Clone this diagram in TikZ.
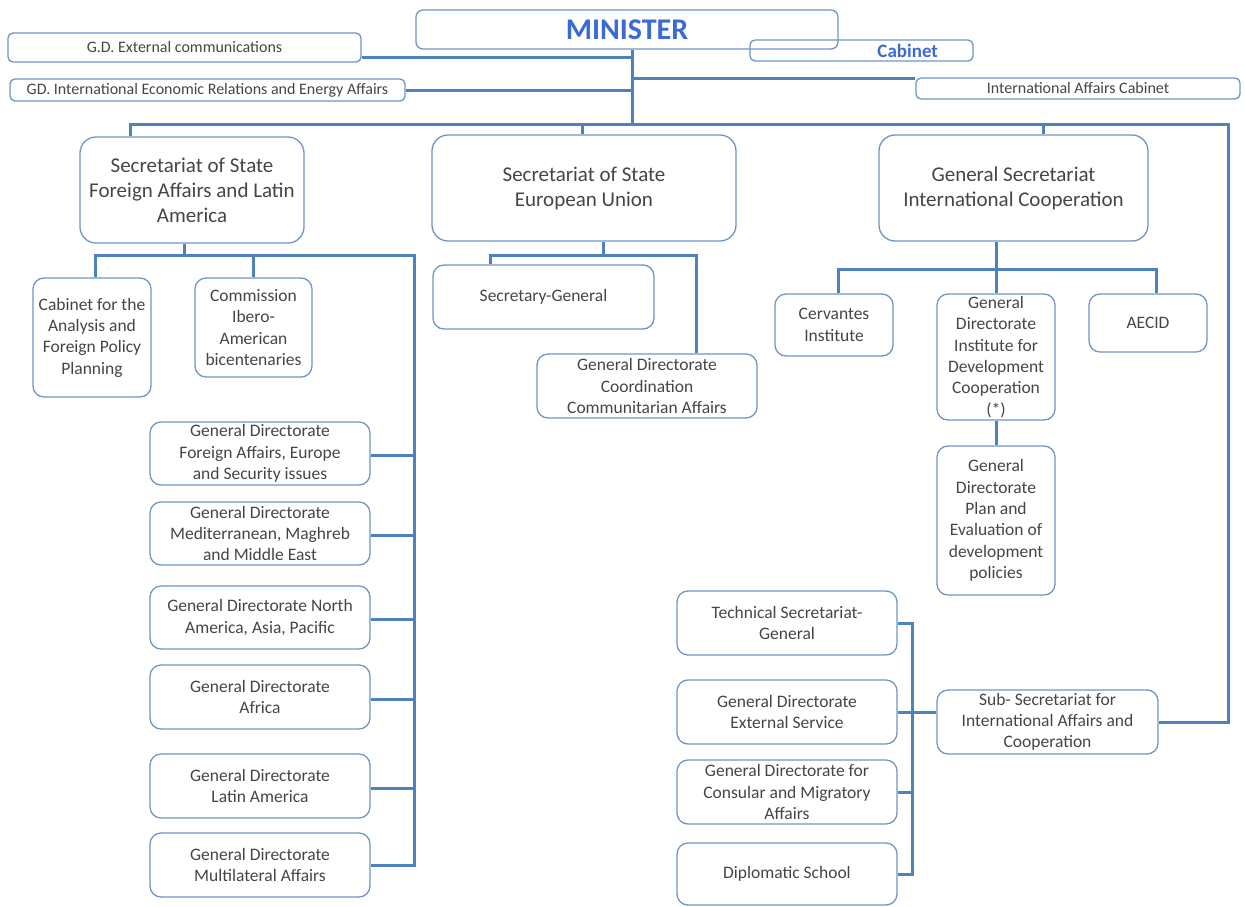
\documentclass[tikz,border=0pt]{standalone}
\usepackage{fontspec}
\setmainfont{Carlito}
\usepackage{xcolor}
\definecolor{linkblue}{HTML}{4F81BD}
\definecolor{edgeblue}{HTML}{6F95C6}
\definecolor{headblue}{HTML}{3A6AD6}
\definecolor{txtgray}{HTML}{454545}
\newcommand{\bigtxt}{\fontsize{21}{25}\selectfont}
\newcommand{\midtxt}{\fontsize{17.5}{21.3}\selectfont}
\newcommand{\smalltxt}{\fontsize{16}{18}\selectfont}

\begin{document}
\begin{tikzpicture}[x=1pt,y=-1pt]
    \tikzset{unit/.style={draw=edgeblue, line width=1.3pt, text=txtgray, align=center, inner sep=0pt},
      topunit/.style={unit, rounded corners=5pt, font=\smalltxt},
      secunit/.style={unit, rounded corners=16pt, font=\bigtxt, minimum height=106pt},
      dirunit/.style={unit, rounded corners=11pt, font=\midtxt},
      link/.style={draw=linkblue, line width=3pt}}
\useasboundingbox (0,0) rectangle (1245,907);
% top level
\node[unit, rounded corners=7pt, minimum width=422pt, minimum height=39pt, text=headblue, font=\fontsize{30}{32}\selectfont\bfseries] (minister) at (627,29.5) {MINISTER};
\node[topunit, minimum width=223pt, minimum height=21pt, text=headblue, font=\fontsize{19}{20}\selectfont\bfseries] (cabinet) at (861.5,50.5) {\makebox[223pt][r]{Cabinet\hspace{35pt}}};
\node[topunit, minimum width=353pt, minimum height=29pt] (gdext) at (184.5,47.5) {G.D. External communications};
\node[topunit, minimum width=395pt, minimum height=22pt] (gdier) at (207.5,90) {GD. International Economic Relations and Energy Affairs};
\node[topunit, minimum width=324pt, minimum height=21pt] (iac) at (1078,88.5) {International Affairs Cabinet};
\coordinate (trunk) at (632,124);
\coordinate (busL) at (130,124);
\coordinate (busR) at (1228,124);
\draw[link] (trunk |- minister.south) -- (trunk);
\draw[link] ([yshift=-10.5pt]gdext.east) coordinate (g1) -- (g1 -| trunk);
\draw[link] (gdier.east) -- (gdier.east -| trunk);
\draw[link] ([yshift=9.5pt]iac.west) coordinate (g2) -- (g2 -| trunk);
% secretariats
\node[secunit, minimum width=224pt] (sfa) at (192,190) {Secretariat of State\\Foreign Affairs and Latin\\America};
\node[secunit, minimum width=304pt] (seu) at (584,188) {Secretariat of State\\European Union};
\node[secunit, minimum width=269pt] (sgi) at (1013.5,188) {General Secretariat\\International Cooperation};
\node[dirunit, minimum width=221pt, minimum height=64pt] (subsec) at (1047.5,722) {Sub- Secretariat for\\International Affairs and\\Cooperation};
\draw[link] (sfa.north -| busL) |- (busR) |- (subsec.east);
\draw[link] ([xshift=-2pt]seu.north) -- ([xshift=-2pt]seu.north |- busL);
\draw[link] ([xshift=30pt]sgi.north) -- ([xshift=30pt]sgi.north |- busL);
% foreign affairs and latin america
\node[dirunit, minimum width=118pt, minimum height=119pt] (cab) at (92,337.5) {Cabinet for the\\Analysis and\\Foreign Policy\\Planning};
\node[dirunit, minimum width=117pt, minimum height=99pt] (comm) at (253.5,327.5) {Commission\\Ibero-\\American\\bicentenaries};
\node[dirunit, minimum width=220pt, minimum height=63pt] (gdfa) at (260,453.5) {General Directorate\\Foreign Affairs, Europe\\and Security issues};
\node[dirunit, minimum width=220pt, minimum height=63pt] (gdmed) at (260,533.5) {General Directorate\\Mediterranean, Maghreb\\and Middle East};
\node[dirunit, minimum width=220pt, minimum height=63pt] (gdnap) at (260,617.5) {General Directorate North\\America, Asia, Pacific};
\node[dirunit, minimum width=220pt, minimum height=64pt] (gdafr) at (260,697) {General Directorate\\Africa};
\node[dirunit, minimum width=220pt, minimum height=64pt] (gdlat) at (260,786) {General Directorate\\Latin America};
\node[dirunit, minimum width=220pt, minimum height=64pt] (gdmul) at (260,865) {General Directorate\\Multilateral Affairs};
\coordinate (fabus) at (414,255);
\draw[link] ([xshift=3pt]cab.north) |- (fabus) -- (fabus |- gdmul.east) -- (gdmul.east);
\draw[link] ([xshift=-8pt]sfa.south) -- ([xshift=-8pt]sfa.south |- fabus);
\draw[link] (comm.north) -- (comm.north |- fabus);
\foreach \gd in {gdfa,gdmed,gdnap,gdafr,gdlat}
  \draw[link] ([yshift=-2pt]\gd.east) -- ([yshift=-2pt]\gd.east -| fabus);
% european union
\node[dirunit, minimum width=221pt, minimum height=64pt] (secgen) at (543.5,297) {Secretary-General};
\node[dirunit, minimum width=220pt, minimum height=64pt] (coord) at (647,386) {General Directorate\\Coordination\\Communitarian Affairs};
\coordinate (eubus) at (696,255);
\draw[link] ([xshift=-53pt]secgen.north) |- (eubus) -- (eubus |- coord.north);
\draw[link] ([xshift=19pt]seu.south) -- ([xshift=19pt]seu.south |- eubus);
% international cooperation
\node[dirunit, minimum width=118pt, minimum height=62pt] (cerv) at (834,325) {Cervantes\\Institute};
\node[dirunit, minimum width=118pt, minimum height=126pt] (gdinst) at (996,357) {General\\Directorate\\Institute for\\Development\\Cooperation\\(*)};
\node[dirunit, minimum width=118pt, minimum height=58pt] (aecid) at (1148,323) {AECID};
\node[dirunit, minimum width=118pt, minimum height=149pt] (gdplan) at (996,520.5) {General\\Directorate\\Plan and\\Evaluation of\\development\\policies};
\coordinate (gsbus) at (1156,269);
\draw[link] ([xshift=4pt]cerv.north) |- (gsbus) -- (gsbus |- aecid.north);
\draw[link] (gdinst.north) -- (gdinst.north |- sgi.south);
\draw[link] (gdinst.south) -- (gdplan.north);
% sub-secretariat
\node[dirunit, minimum width=220pt, minimum height=64pt] (tech) at (787,623) {Technical Secretariat-\\General};
\node[dirunit, minimum width=220pt, minimum height=64pt] (extsrv) at (787,712) {General Directorate\\External Service};
\node[dirunit, minimum width=220pt, minimum height=64pt] (cons) at (787,792) {General Directorate for\\Consular and Migratory\\Affairs};
\node[dirunit, minimum width=220pt, minimum height=62pt] (dipl) at (787,874) {Diplomatic School};
\coordinate (sbus) at (912,700);
\draw[link] (tech.east) -- (tech.east -| sbus) -- (sbus |- dipl.east) -- (dipl.east);
\draw[link] (cons.east) -- (cons.east -| sbus);
\draw[link] (extsrv.east) -- (extsrv.east -| subsec.west);
\end{tikzpicture}
\end{document}
